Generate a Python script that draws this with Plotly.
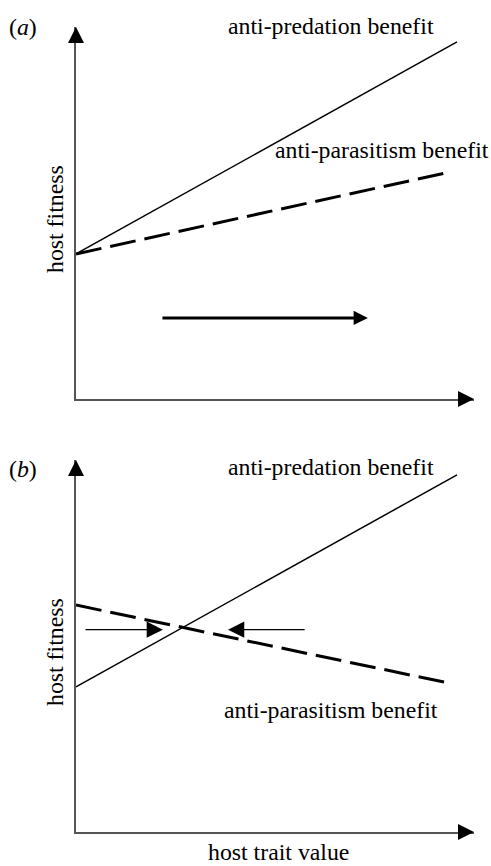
import plotly.graph_objects as go

# ---- data (schematic values, host trait value 0..10, fitness 0..10) ----
trait = [0, 10]
trait_dash = [0, 9.8]
a_predation = [3.9, 9.6]
a_parasitism = [3.9, 6.1]
b_predation = [3.9, 9.6]
b_parasitism = [6.1, 4.0]

W, H = 491, 866
FONT = "Liberation Serif"
FS = 23.8

def px(p):
    return p / W

def py(p):
    return 1 - p / H

X_RANGE = [0, (474 - 76) / 38.1]
Y_RANGE = [0, 10]

fig = go.Figure()

# panel (a)
fig.add_trace(go.Scatter(x=trait, y=a_predation, mode="lines",
                         line=dict(color="black", width=1.5),
                         xaxis="x", yaxis="y", showlegend=False, hoverinfo="skip"))
fig.add_trace(go.Scatter(x=trait_dash, y=a_parasitism, mode="lines",
                         line=dict(color="black", width=3, dash="26px,9px"),
                         xaxis="x", yaxis="y", showlegend=False, hoverinfo="skip"))
# panel (b)
fig.add_trace(go.Scatter(x=trait, y=b_predation, mode="lines",
                         line=dict(color="black", width=1.5),
                         xaxis="x2", yaxis="y2", showlegend=False, hoverinfo="skip"))
fig.add_trace(go.Scatter(x=trait_dash, y=b_parasitism, mode="lines",
                         line=dict(color="black", width=3, dash="26px,9px"),
                         xaxis="x2", yaxis="y2", showlegend=False, hoverinfo="skip"))

axis_common = dict(showline=True, linecolor="#555555", linewidth=2, showgrid=False,
                   zeroline=False, showticklabels=False, ticks="", fixedrange=True)

fig.update_layout(
    width=W, height=H, autosize=False,
    margin=dict(l=0, r=0, t=0, b=0),
    paper_bgcolor="white", plot_bgcolor="white",
    xaxis=dict(domain=[px(76), px(474)], range=X_RANGE, anchor="y", **axis_common),
    yaxis=dict(domain=[py(399), py(27)], range=Y_RANGE, anchor="x", **axis_common),
    xaxis2=dict(domain=[px(76), px(474)], range=X_RANGE, anchor="y2", **axis_common),
    yaxis2=dict(domain=[py(832), py(460)], range=Y_RANGE, anchor="x2", **axis_common),
)

ann = []
# axis arrowheads
for xr, yr in (("x", "y"), ("x2", "y2")):
    ann.append(dict(x=X_RANGE[1], y=0, ax=X_RANGE[1] - 0.45, ay=0, xref=xr, yref=yr,
                    axref=xr, ayref=yr, showarrow=True, arrowhead=2, arrowsize=1.6,
                    arrowwidth=2, arrowcolor="black", text=""))
    ann.append(dict(x=0, y=Y_RANGE[1], ax=0, ay=Y_RANGE[1] - 0.45, xref=xr, yref=yr,
                    axref=xr, ayref=yr, showarrow=True, arrowhead=2, arrowsize=1.6,
                    arrowwidth=2, arrowcolor="black", text=""))

# direction arrows
ann.append(dict(x=7.66, y=2.18, ax=2.23, ay=2.18, xref="x", yref="y", axref="x", ayref="y",
                showarrow=True, arrowhead=2, arrowsize=0.95, arrowwidth=3,
                arrowcolor="black", text=""))
ann.append(dict(x=2.28, y=5.44, ax=0.21, ay=5.44, xref="x2", yref="y2", axref="x2", ayref="y2",
                showarrow=True, arrowhead=2, arrowsize=2.7, arrowwidth=1.2,
                arrowcolor="black", text=""))
ann.append(dict(x=3.99, y=5.44, ax=6.04, ay=5.44, xref="x2", yref="y2", axref="x2", ayref="y2",
                showarrow=True, arrowhead=2, arrowsize=2.7, arrowwidth=1.2,
                arrowcolor="black", text=""))

def label(text, cx, cy, angle=0):
    ann.append(dict(text=text, x=px(cx), y=py(cy), xref="paper", yref="paper",
                    showarrow=False, xanchor="center", yanchor="middle", textangle=angle,
                    font=dict(family=FONT, size=FS, color="black")))

label("(<i>a</i>)", 22.5, 27)
label("(<i>b</i>)", 22.5, 469)
label("anti-predation benefit", 330.5, 26)
label("anti-parasitism benefit", 381.5, 150)
label("anti-predation benefit", 330.5, 467)
label("anti-parasitism benefit", 330.5, 710)
label("host fitness", 55, 219, -90)
label("host fitness", 55, 652, -90)
label("host trait value", 278.5, 852)

fig.update_layout(annotations=ann)
fig.write_html("out.html", config={"displayModeBar": False},
               post_script="document.body.style.margin='0';document.body.style.overflow='hidden';")
